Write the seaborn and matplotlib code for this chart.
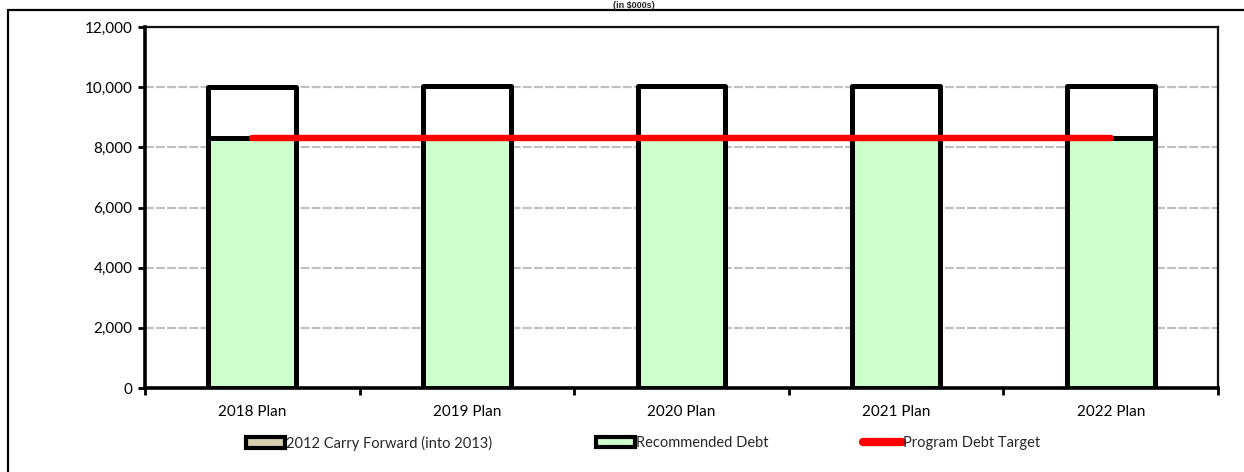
import numpy as np
import pandas as pd
import matplotlib
matplotlib.use("Agg")
import matplotlib.pyplot as plt
from matplotlib.patches import Patch, Rectangle
from matplotlib.lines import Line2D
from matplotlib.ticker import FuncFormatter, FixedLocator
import seaborn as sns

categories = ["2018 Plan", "2019 Plan", "2020 Plan", "2021 Plan", "2022 Plan"]
recommended_debt = [8300, 8300, 8300, 8300, 8300]
carry_forward = [1700, 1750, 1750, 1750, 1750]
program_debt_target = [8300, 8300, 8300, 8300, 8300]
y_ticks = [0, 2000, 4000, 6000, 8000, 10000, 12000]
legend_labels = ["2012 Carry Forward (into 2013)", "Recommended Debt", "Program Debt Target"]
title_text = "(in $000s)"

sns.set_theme(style="white")
plt.rcParams["font.family"] = ["Lato", "DejaVu Sans"]

df = pd.DataFrame({
    "cat": categories,
    "rec": recommended_debt,
    "total": [r + c for r, c in zip(recommended_debt, carry_forward)],
})

fig = plt.figure(figsize=(12.44, 4.72), dpi=100)
ax = fig.add_axes([145 / 1244, 1 - 388 / 472, (1218 - 145) / 1244, (388 - 27) / 472])

sns.barplot(data=df, x="cat", y="total", color="white", edgecolor="black",
            linewidth=3.6, width=0.41, saturation=1, ax=ax, zorder=3)
sns.barplot(data=df, x="cat", y="rec", color="#ccffcc", edgecolor="black",
            linewidth=3.6, width=0.41, saturation=1, ax=ax, zorder=4)
for p in ax.patches:
    p.set_joinstyle("round")

xpos = np.arange(len(categories))
ax.plot(xpos, program_debt_target, color="#ff0000", lw=4.6,
        solid_capstyle="round", zorder=6)

ax.set_xlim(-0.5, len(categories) - 0.5)
ax.set_ylim(0, 12000)
ax.set_yticks(y_ticks)
ax.yaxis.set_major_formatter(FuncFormatter(lambda v, p: f"{int(v):,}"))
ax.set_xticks(xpos)
ax.set_xticklabels(categories)
ax.xaxis.set_minor_locator(FixedLocator(np.arange(-0.5, len(categories), 1.0)))
ax.tick_params(axis="x", which="major", length=0, pad=12, labelsize=11, colors="black")
ax.tick_params(axis="x", which="minor", length=5, width=2, direction="out", color="black", bottom=True)
ax.tick_params(axis="y", which="major", length=5, width=2, direction="out", left=True,
               labelsize=11, colors="black", pad=4)
ax.set_xlabel("")
ax.set_ylabel("")

ax.yaxis.grid(True, color="#c0c0c0", linestyle=(0, (4, 1)), linewidth=1.6, zorder=0)
ax.set_axisbelow(True)

for side in ["left", "bottom"]:
    ax.spines[side].set_linewidth(2.6)
    ax.spines[side].set_color("black")
for side in ["top", "right"]:
    ax.spines[side].set_linewidth(1.6)
    ax.spines[side].set_color("#111111")
    ax.spines[side].set_visible(True)

handles = [
    Patch(facecolor="#d6d0ae", edgecolor="black", linewidth=3),
    Patch(facecolor="#ccffcc", edgecolor="black", linewidth=3),
    Line2D([0], [0], color="#ff0000", lw=6, solid_capstyle="round"),
]
handle_left_px = [246, 596, 863]
for h, lab, xl in zip(handles, legend_labels, handle_left_px):
    leg = fig.legend([h], [lab], loc="center left",
                     bbox_to_anchor=(xl / 1244, 1 - 443 / 472),
                     frameon=False, fontsize=10.5, handlelength=2.7, handleheight=0.75,
                     handletextpad=0.05, borderpad=0, borderaxespad=0)

fig.patches.append(Rectangle((8 / 1244, -0.2), 1.2, (1 - 10 / 472) + 0.2,
                             transform=fig.transFigure, fill=False,
                             edgecolor="black", linewidth=1.6))
fig.text(634 / 1244, 1 - 1 / 472, title_text, ha="center", va="top",
         fontsize=6.5, fontweight="bold", family=["Liberation Sans", "DejaVu Sans"])

fig.savefig("out.png", dpi=100)
